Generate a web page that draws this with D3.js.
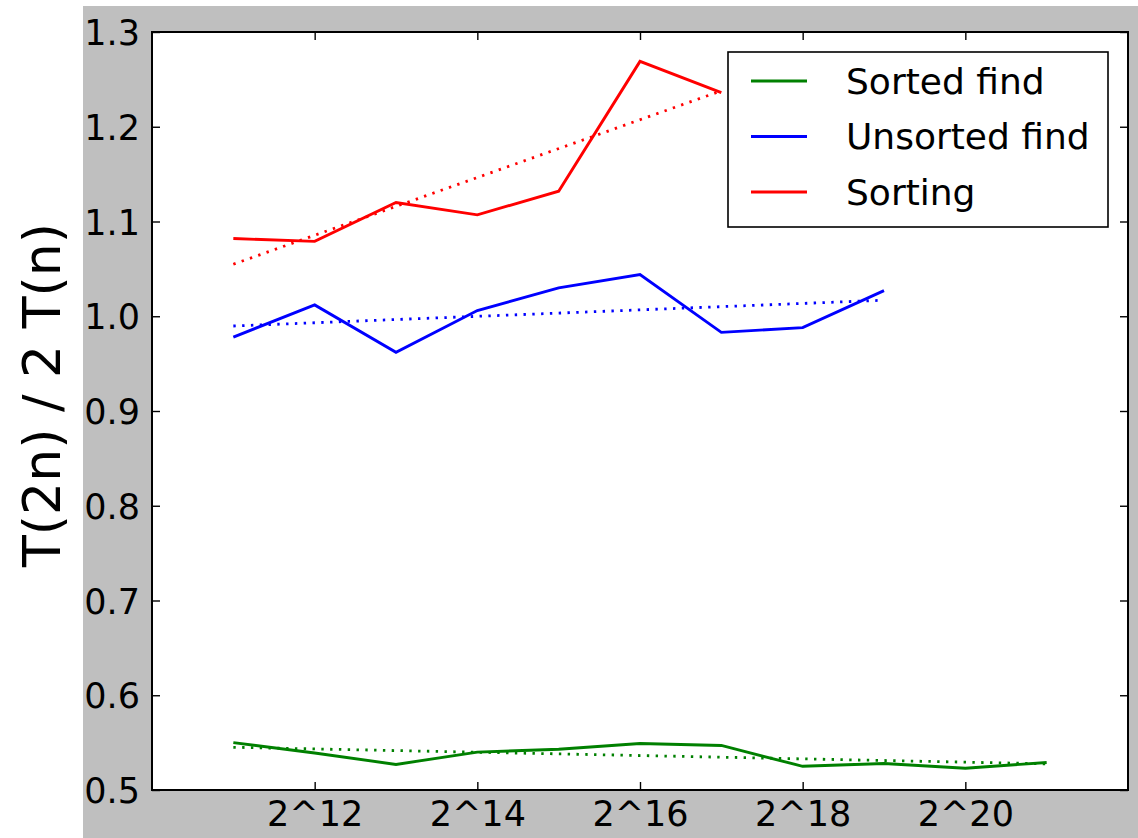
<!DOCTYPE html>
<html>
<head>
<meta charset="utf-8">
<script src="https://cdn.jsdelivr.net/npm/d3@7/dist/d3.min.js"></script>
<style>
  html, body { margin: 0; padding: 0; background: #ffffff; }
  svg { display: block; }
  text { font-family: "DejaVu Sans", sans-serif; fill: #000; }
</style>
</head>
<body>
<svg id="chart" width="1138" height="838"></svg>
<script>
// Input sizes n (powers of two) for each measured series
const sortedFindN   = [2048, 4096, 8192, 16384, 32768, 65536, 131072, 262144, 524288, 1048576, 2097152];
const unsortedFindN = [2048, 4096, 8192, 16384, 32768, 65536, 131072, 262144, 524288];
const sortingN      = [2048, 4096, 8192, 16384, 32768, 65536, 131072];

// Ratio T(2n) / 2 T(n)
const sortedFindRatio   = [0.550, 0.539, 0.527, 0.540, 0.543, 0.549, 0.547, 0.525, 0.528, 0.523, 0.529];
const unsortedFindRatio = [0.978, 1.012, 0.962, 1.006, 1.030, 1.044, 0.983, 0.988, 1.027];
const sortingRatio      = [1.082, 1.079, 1.120, 1.107, 1.132, 1.269, 1.236];

const seriesNames  = ["Sorted find", "Unsorted find", "Sorting"];
const seriesColors = ["#008000", "#0000ff", "#ff0000"];

const xTickValues = [4096, 16384, 65536, 262144, 1048576];
const xTickLabels = ["2^12", "2^14", "2^16", "2^18", "2^20"];
const yTickValues = [0.5, 0.6, 0.7, 0.8, 0.9, 1.0, 1.1, 1.2, 1.3];

const yAxisTitle = "T(2n) / 2 T(n)";

const series = [
  { name: seriesNames[0], color: seriesColors[0], n: sortedFindN,   r: sortedFindRatio },
  { name: seriesNames[1], color: seriesColors[1], n: unsortedFindN, r: unsortedFindRatio },
  { name: seriesNames[2], color: seriesColors[2], n: sortingN,      r: sortingRatio }
].map(s => ({ ...s, points: s.n.map((n, i) => ({ n, r: s.r[i] })) }));

const svg = d3.select("#chart");

// figure background
svg.append("rect").attr("x", 83).attr("y", 6).attr("width", 1138 - 83).attr("height", 838 - 6)
  .attr("fill", "#bfbfbf");

const plot = { left: 152, top: 32, right: 1128, bottom: 790 };

const x = d3.scaleLog().base(2).domain([1024, 4194304]).range([plot.left, plot.right]);
const y = d3.scaleLinear().domain([0.5, 1.3]).range([plot.bottom, plot.top]);

svg.append("rect")
  .attr("x", plot.left).attr("y", plot.top)
  .attr("width", plot.right - plot.left).attr("height", plot.bottom - plot.top)
  .attr("fill", "#ffffff");

const line = d3.line().x(d => x(d.n)).y(d => y(d.r));

// least-squares fit of the ratio against log2(n)
function trend(points) {
  const xs = points.map(p => Math.log2(p.n));
  const ys = points.map(p => p.r);
  const mx = d3.mean(xs), my = d3.mean(ys);
  const slope = d3.sum(xs, (v, i) => (v - mx) * (ys[i] - my)) / d3.sum(xs, v => (v - mx) * (v - mx));
  const f = v => my + slope * (Math.log2(v) - mx);
  const first = points[0].n, last = points[points.length - 1].n;
  return [{ n: first, r: f(first) }, { n: last, r: f(last) }];
}

const marks = svg.append("g");
series.forEach(s => {
  marks.append("path")
    .attr("d", line(trend(s.points)))
    .attr("fill", "none")
    .attr("stroke", s.color)
    .attr("stroke-width", 2.8)
    .attr("stroke-dasharray", "2.4,6.4");
  marks.append("path")
    .attr("d", line(s.points))
    .attr("fill", "none")
    .attr("stroke", s.color)
    .attr("stroke-width", 2.9)
    .attr("stroke-linejoin", "miter");
});

// axes: ticks point inward on all four sides
const tickLen = 8;
const fmtX = d => xTickLabels[xTickValues.indexOf(d)];

const gx = svg.append("g").attr("transform", `translate(0,${plot.bottom})`)
  .call(d3.axisBottom(x).tickValues(xTickValues).tickFormat(fmtX).tickSize(-tickLen).tickPadding(11));
const gy = svg.append("g").attr("transform", `translate(${plot.left},0)`)
  .call(d3.axisLeft(y).tickValues(yTickValues).tickFormat(d3.format(".1f")).tickSize(-tickLen).tickPadding(12));
const gxTop = svg.append("g").attr("transform", `translate(0,${plot.top})`)
  .call(d3.axisTop(x).tickValues(xTickValues).tickFormat("").tickSize(-tickLen));
const gyRight = svg.append("g").attr("transform", `translate(${plot.right},0)`)
  .call(d3.axisRight(y).tickValues(yTickValues).tickFormat("").tickSize(-tickLen));

[gx, gy, gxTop, gyRight].forEach(g => {
  g.select(".domain").remove();
  g.selectAll(".tick line").attr("stroke", "#000").attr("stroke-width", 1.4);
  g.selectAll(".tick text").attr("font-family", "DejaVu Sans").attr("font-size", 35).attr("fill", "#000");
});
gy.selectAll(".tick text").attr("dy", "0.36em");

svg.append("rect")
  .attr("x", plot.left).attr("y", plot.top)
  .attr("width", plot.right - plot.left).attr("height", plot.bottom - plot.top)
  .attr("fill", "none").attr("stroke", "#000").attr("stroke-width", 2);

// y-axis title
svg.append("text")
  .attr("transform", `translate(60,395) rotate(-90)`)
  .attr("text-anchor", "middle")
  .attr("font-size", 52)
  .text(yAxisTitle);

// legend
const legend = svg.append("g").attr("transform", "translate(728,52)");
legend.append("rect").attr("width", 380).attr("height", 175)
  .attr("fill", "#fff").attr("stroke", "#000").attr("stroke-width", 1.6);
series.forEach((s, i) => {
  const cy = 29 + i * 55.5;
  legend.append("line")
    .attr("x1", 23).attr("x2", 79).attr("y1", cy).attr("y2", cy)
    .attr("stroke", s.color).attr("stroke-width", 2.9);
  legend.append("text")
    .attr("x", 118).attr("y", cy).attr("dy", "0.36em")
    .attr("font-size", 36)
    .text(s.name);
});
</script>
